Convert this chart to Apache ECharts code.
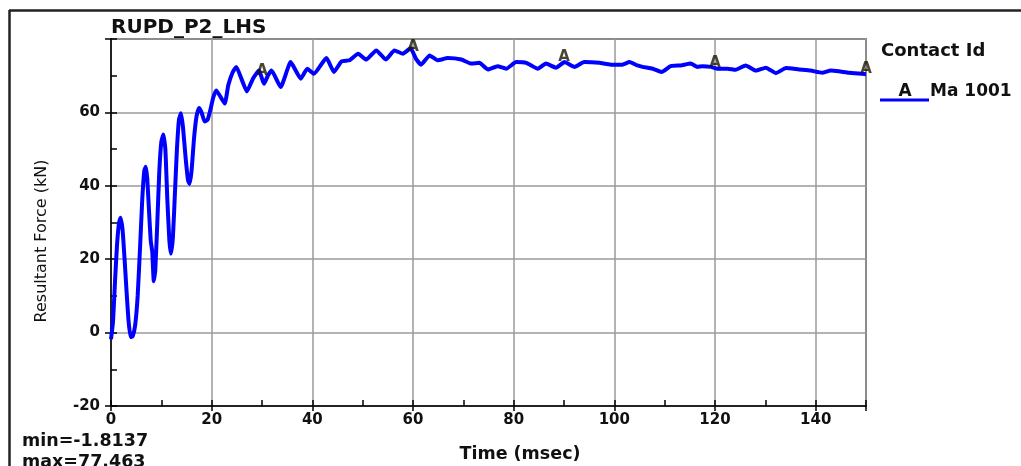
<!DOCTYPE html>
<html>
<head>
<meta charset="utf-8">
<title>RUPD_P2_LHS</title>
<script src="https://cdn.jsdelivr.net/npm/echarts@6/dist/echarts.min.js"></script>
<style>
  html, body { margin: 0; padding: 0; background: #fff; }
  #chart { width: 1021px; height: 466px; }
</style>
</head>
<body>
<div id="chart"></div>
<script>
// Contact Id Ma 1001, resultant force vs time
const times = [
  0, 0.4, 0.8, 1.2, 1.6, 1.9, 2.3, 2.7, 3.1, 3.5, 3.9, 4.3,
  4.8, 5.3, 5.8, 6.2, 6.6, 6.9, 7.2, 7.6, 7.9, 8.2, 8.5, 8.8,
  9.2, 9.6, 10.0, 10.4, 10.8, 11.2, 11.6, 11.9, 12.3, 12.7, 13.1, 13.5,
  13.9, 14.3, 14.8, 15.3, 15.6, 16.0, 16.5, 17.0, 17.5, 18.0, 18.6, 19.2,
  19.8, 20.3, 20.9, 21.6, 22.6, 23.3, 24.2, 24.9, 25.9, 27.0, 28.2, 29.4,
  30.4, 31.2, 31.9, 33.7, 35.7, 37.7, 39.0, 40.3, 42.8, 44.3, 45.8, 47.4,
  49.1, 50.7, 52.7, 54.6, 56.3, 58.0, 59.5, 60.6, 61.6, 63.3, 64.9, 66.9,
  69.6, 71.6, 73.2, 74.9, 76.8, 78.5, 80.5, 82.5, 84.8, 86.4, 88.4, 90.1,
  92.1, 94.0, 97.0, 99.3, 101.6, 103.0, 104.6, 105.6, 107.6, 109.4, 111.2, 113.2,
  115.2, 116.5, 117.5, 119.2, 120.5, 122.5, 124.1, 126.1, 128.1, 130.1, 132.1, 134.1,
  136.7, 139.0, 141.3, 143.0, 144.6, 146.6, 149.3, 150
];
const forces = [
  -1.8, 3, 14, 24, 30, 31.3, 28, 20, 11, 3, -1.2, -1.0,
  2, 10, 24, 36, 44, 45.2, 42, 32, 25, 22, 14, 17,
  30, 44, 52, 54, 50, 36, 25, 21.5, 26, 38, 50, 58,
  59.8, 56, 48, 41.5, 40.5, 44, 53, 59, 61.2, 60, 57.5, 58,
  61, 64, 66, 64.6, 62.4, 67.4, 71, 72.4, 69.2, 65.7, 69.2, 71.4,
  67.8, 70.1, 71.4, 66.9, 73.7, 69.2, 71.9, 70.5, 74.8, 71.0, 73.9, 74.2,
  76.0, 74.4, 76.9, 74.4, 76.9, 76.0, 77.46, 74.6, 73.0, 75.5, 74.2, 74.8,
  74.4, 73.3, 73.5, 71.7, 72.6, 71.9, 73.7, 73.5, 71.9, 73.3, 72.2, 73.7,
  72.4, 73.7, 73.5, 73.0, 73.0, 73.7, 72.8, 72.4, 71.9, 71.0, 72.6, 72.8,
  73.3, 72.4, 72.6, 72.4, 71.9, 71.9, 71.6, 72.8, 71.4, 72.2, 70.7, 72.1,
  71.7, 71.4, 70.8, 71.4, 71.2, 70.8, 70.5, 70.4
];
// "A" symbols placed every 30 ms on the curve
const markerTimes = [30, 60, 90, 120, 150];
const markerForces = [70.0, 76.5, 73.6, 72.1, 70.4];

const xTickLabels = [0, 20, 40, 60, 80, 100, 120, 140];
const yTickLabels = [-20, 0, 20, 40, 60];

const FONT = '"DejaVu Sans", "Liberation Sans", sans-serif';
const chart = echarts.init(document.getElementById('chart'));

const tickStyle = { color: '#000', width: 1.5 };
const labelStyle = { fontFamily: FONT, fontSize: 15, fontWeight: 'bold', color: '#111' };

chart.setOption({
  animation: false,
  backgroundColor: '#fff',
  grid: {
    left: 111, right: 155, top: 39, bottom: 60,
    show: true, borderColor: '#333', borderWidth: 1.5
  },
  xAxis: [
    {
      type: 'value', min: 0, max: 150, interval: 20,
      axisLine: { show: true, onZero: false, lineStyle: tickStyle },
      axisTick: { show: true, length: 5, lineStyle: tickStyle },
      axisLabel: Object.assign({
        margin: 7,
        formatter: v => (xTickLabels.includes(v) ? String(v) : '')
      }, labelStyle),
      splitLine: { show: true, lineStyle: { color: '#9a9a9a', width: 1.5 } }
    },
    {
      // minor ticks every 10, pointing into the plot
      type: 'value', min: 0, max: 150, interval: 10, position: 'bottom',
      axisLine: { show: false, onZero: false },
      axisTick: { show: true, inside: true, length: 6, lineStyle: tickStyle },
      axisLabel: { show: false },
      splitLine: { show: false }
    }
  ],
  yAxis: [
    {
      type: 'value', min: -20, max: 80, interval: 20,
      axisLine: { show: true, onZero: false, lineStyle: tickStyle },
      axisTick: { show: true, length: 6, lineStyle: tickStyle },
      axisLabel: Object.assign({
        margin: 11,
        formatter: v => (yTickLabels.includes(v) ? String(v) : '')
      }, labelStyle),
      splitLine: { show: true, lineStyle: { color: '#9a9a9a', width: 1.5 } }
    },
    {
      type: 'value', min: -20, max: 80, interval: 10, position: 'left',
      axisLine: { show: false, onZero: false },
      axisTick: { show: true, inside: true, length: 6, lineStyle: tickStyle },
      axisLabel: { show: false },
      splitLine: { show: false }
    }
  ],
  series: [
    {
      name: 'Ma 1001',
      type: 'line',
      data: times.map((t, i) => [t, forces[i]]),
      showSymbol: false,
      smooth: 0.15,
      lineStyle: { color: '#0000ff', width: 4 },
      z: 3
    },
    {
      type: 'scatter',
      data: markerTimes.map((t, i) => [t, markerForces[i]]),
      symbolSize: 1,
      itemStyle: { color: 'rgba(0,0,0,0)' },
      label: {
        show: true, formatter: 'A', position: 'top', distance: -3,
        fontFamily: FONT, fontSize: 15, fontWeight: 'bold', color: '#1a1600'
      },
      silent: true,
      z: 4
    }
  ],
  graphic: [
    // outer frame (top and left edges)
    { type: 'line', shape: { x1: 9, y1: 10.5, x2: 1021, y2: 10.5 }, style: { stroke: '#222', lineWidth: 2.5 } },
    { type: 'line', shape: { x1: 9.5, y1: 10, x2: 9.5, y2: 466 }, style: { stroke: '#222', lineWidth: 2.5 } },
    {
      type: 'text', x: 111, y: 28,
      style: { text: 'RUPD_P2_LHS', font: 'bold 20px ' + FONT, fill: '#111',
               textAlign: 'left', textVerticalAlign: 'middle', verticalAlign: 'middle' }
    },
    {
      type: 'text', x: 42, y: 241, rotation: Math.PI / 2,
      style: { text: 'Resultant Force (kN)', font: '16px ' + FONT, fill: '#111',
               textAlign: 'center', textVerticalAlign: 'middle', verticalAlign: 'middle' }
    },
    {
      type: 'text', x: 520, y: 454,
      style: { text: 'Time (msec)', font: 'bold 17.5px ' + FONT, fill: '#111',
               textAlign: 'center', textVerticalAlign: 'middle', verticalAlign: 'middle' }
    },
    {
      type: 'text', x: 22, y: 441,
      style: { text: 'min=-1.8137', font: 'bold 17.5px ' + FONT, fill: '#111',
               textAlign: 'left', textVerticalAlign: 'middle', verticalAlign: 'middle' }
    },
    {
      type: 'text', x: 22, y: 462,
      style: { text: 'max=77.463', font: 'bold 17.5px ' + FONT, fill: '#111',
               textAlign: 'left', textVerticalAlign: 'middle', verticalAlign: 'middle' }
    },
    // legend
    {
      type: 'text', x: 881, y: 51,
      style: { text: 'Contact Id', font: 'bold 18px ' + FONT, fill: '#111',
               textAlign: 'left', textVerticalAlign: 'middle', verticalAlign: 'middle' }
    },
    { type: 'line', shape: { x1: 880, y1: 100, x2: 929, y2: 100 }, style: { stroke: '#0000ff', lineWidth: 3 } },
    {
      type: 'text', x: 905, y: 92,
      style: { text: 'A', font: 'bold 17px ' + FONT, fill: '#111',
               textAlign: 'center', textVerticalAlign: 'middle', verticalAlign: 'middle' }
    },
    {
      type: 'text', x: 930, y: 92,
      style: { text: 'Ma 1001', font: 'bold 17px ' + FONT, fill: '#111',
               textAlign: 'left', textVerticalAlign: 'middle', verticalAlign: 'middle' }
    }
  ]
});
</script>
</body>
</html>
